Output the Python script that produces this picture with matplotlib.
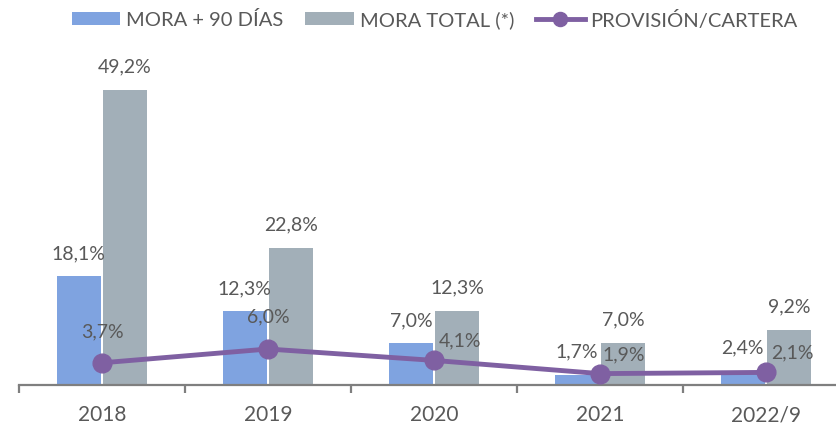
import numpy as np
import matplotlib.pyplot as plt

# data
categories = ["2018", "2019", "2020", "2021", "2022/9"]
mora_90 = [18.1, 12.3, 7.0, 1.7, 2.4]
mora_total = [49.2, 22.8, 12.3, 7.0, 9.2]
provision = [3.7, 6.0, 4.1, 1.9, 2.1]

series_names = ["MORA + 90 DÍAS", "MORA TOTAL (*)", "PROVISIÓN/CARTERA"]

c_blue = "#7FA3E0"
c_gray = "#A2AFB8"
c_purple = "#7F60A2"
c_text = "#595959"
c_axis = "#7F7F7F"

plt.rcParams["font.family"] = ["Lato", "DejaVu Sans"]

fig = plt.figure(figsize=(8.36, 4.27), dpi=100)
ax = fig.add_axes([0.0227, 0.096, 0.9928, 0.843])

x = np.arange(len(categories))
w = 0.265
off = 0.139

def fmt(v):
    return f"{v:.1f}%".replace(".", ",")

b1 = ax.bar(x - off, mora_90, width=w, color=c_blue, label=series_names[0], zorder=2)
b2 = ax.bar(x + off, mora_total, width=w, color=c_gray, label=series_names[1], zorder=2)
ln, = ax.plot(x, provision, color=c_purple, lw=3.5, marker="o", ms=13.5,
              label=series_names[2], zorder=3, clip_on=False)

for xi, v in zip(x - off, mora_90):
    ax.annotate(fmt(v), (xi, v), xytext=(0, 17), textcoords="offset points",
                ha="center", va="center", fontsize=14, color=c_text)
for xi, v in zip(x + off, mora_total):
    ax.annotate(fmt(v), (xi, v), xytext=(0, 17.5), textcoords="offset points",
                ha="center", va="center", fontsize=14, color=c_text)

# line labels: first two sit straight above the marker, the rest are nudged right
line_offsets = [(0, 23), (0, 23.5), (19, 14.5), (17, 14), (19, 15)]
for xi, v, (dx, dy) in zip(x, provision, line_offsets):
    ax.annotate(fmt(v), (xi, v), xytext=(dx, dy), textcoords="offset points",
                ha="center", va="center", fontsize=14, color=c_text, zorder=4)

ax.set_xlim(-0.5, len(categories) - 0.5)
ax.set_ylim(0, 60)

for s in ["top", "right", "left"]:
    ax.spines[s].set_visible(False)
ax.spines["bottom"].set_color(c_axis)
ax.spines["bottom"].set_linewidth(1.6)
ax.set_yticks([])

ax.set_xticks(np.arange(len(categories) + 1) - 0.5)
ax.set_xticklabels([])
ax.tick_params(axis="x", which="major", length=6, width=1.6, color=c_axis)
ax.set_xticks(x, minor=True)
ax.set_xticklabels(categories, minor=True, fontsize=15, color=c_text)
ax.tick_params(axis="x", which="minor", length=0, pad=14)

fig.legend(handles=[b1, b2, ln], loc="center", bbox_to_anchor=(0.52, 1 - 20 / 427),
           ncol=3, frameon=False, fontsize=14.5, labelcolor=c_text,
           handlelength=2.4, handleheight=0.6, handletextpad=0.3, columnspacing=1.1,
           markerscale=0.75)

fig.savefig("out.png", dpi=100)
